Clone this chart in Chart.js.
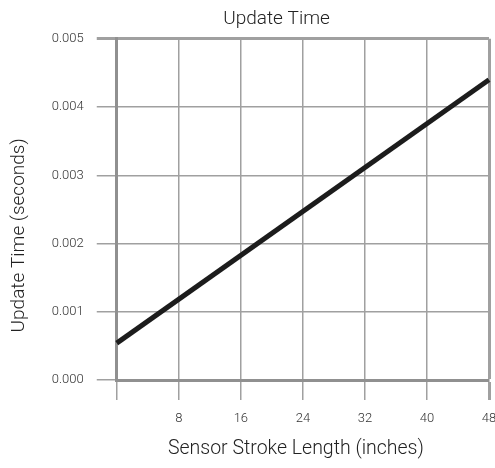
<!DOCTYPE html>
<html>
<head>
<meta charset="utf-8">
<script src="https://cdn.jsdelivr.net/npm/chart.js@4"></script>
<style>
  html, body { margin: 0; padding: 0; background: #fff; }
  #wrap { width: 495px; height: 468px; }
</style>
</head>
<body>
<div id="wrap"><canvas id="myChart"></canvas></div>
<script>
// values
const strokeLength = [0, 48]
const updateTime = [0.00054, 0.0044]
const xTicks = [8, 16, 24, 32, 40, 48]
const yTicks = [0.000, 0.001, 0.002, 0.003, 0.004, 0.005]

const font = "'Roboto', sans-serif"
const ctx = document.getElementById('myChart').getContext('2d')

// the original titles sit off-centre, nudge them a little
function nudgeScaleTitle(scale, dx, dy) {
    if (scale._nudged) return
    const orig = scale.drawTitle
    scale.drawTitle = function () {
        const c = this.ctx
        c.save()
        c.translate(dx, dy)
        orig.apply(this, arguments)
        c.restore()
    }
    scale._nudged = true
}
const titleNudge = {
    id: 'titleNudge',
    afterLayout(chart) {
        chart.titleBlock.left += 27
        chart.titleBlock.right += 27
        nudgeScaleTitle(chart.scales.x, -7, 0)
        nudgeScaleTitle(chart.scales.y, 0, 26)
    },
}

new Chart(ctx, {
    type: 'line',
    data: {
        datasets: [
            {
                label: 'Update Time',
                data: strokeLength.map((x, i) => ({ x: x, y: updateTime[i] })),
                borderColor: '#1c1c1c',
                borderWidth: 5,
                pointRadius: 0,
                fill: false,
                clip: 4,
            },
        ],
    },
    plugins: [titleNudge],
    options: {
        responsive: true,
        maintainAspectRatio: false,
        animation: false,
        layout: { padding: { top: 6, right: 0, bottom: 3, left: 4 } },
        plugins: {
            legend: { display: false },
            tooltip: { enabled: false },
            title: {
                display: true,
                text: 'Update Time',
                color: '#222',
                font: { family: font, size: 19, weight: 300 },
                padding: { top: 2, bottom: 8 },
            },
        },
        scales: {
            x: {
                type: 'linear',
                min: 0,
                max: 48,
                afterBuildTicks: (axis) => {
                    axis.ticks = [0].concat(xTicks).map((v) => ({ value: v }))
                },
                // last label may hang near the edge, like the original
                afterFit: (axis) => {
                    axis.paddingRight = 6
                },
                ticks: {
                    color: '#333',
                    font: { family: font, size: 13, weight: 300 },
                    padding: 11,
                    callback: (v) => (v === 0 ? '' : v),
                },
                grid: {
                    color: '#a0a0a0',
                    lineWidth: (c) => (c.tick && c.tick.value === 48 ? 3 : 1.5),
                    tickLength: 20,
                },
                border: { color: '#909090', width: 3 },
                title: {
                    display: true,
                    text: 'Sensor Stroke Length (inches)',
                    color: '#222',
                    font: { family: font, size: 19.5, weight: 300 },
                    padding: { top: 0 },
                },
            },
            y: {
                min: 0,
                max: 0.005,
                afterBuildTicks: (axis) => {
                    axis.ticks = yTicks.map((v) => ({ value: v }))
                },
                ticks: {
                    color: '#333',
                    font: { family: font, size: 13, weight: 300 },
                    padding: 13,
                    callback: (v) => Number(v).toFixed(3),
                },
                grid: {
                    color: '#a0a0a0',
                    lineWidth: (c) => (c.tick && c.tick.value === 0.005 ? 3 : 1.5),
                    tickLength: 20,
                },
                border: { color: '#909090', width: 3 },
                title: {
                    display: true,
                    text: 'Update Time (seconds)',
                    color: '#222',
                    font: { family: font, size: 19, weight: 300 },
                    padding: { bottom: 8 },
                },
            },
        },
    },
})
</script>
</body>
</html>
